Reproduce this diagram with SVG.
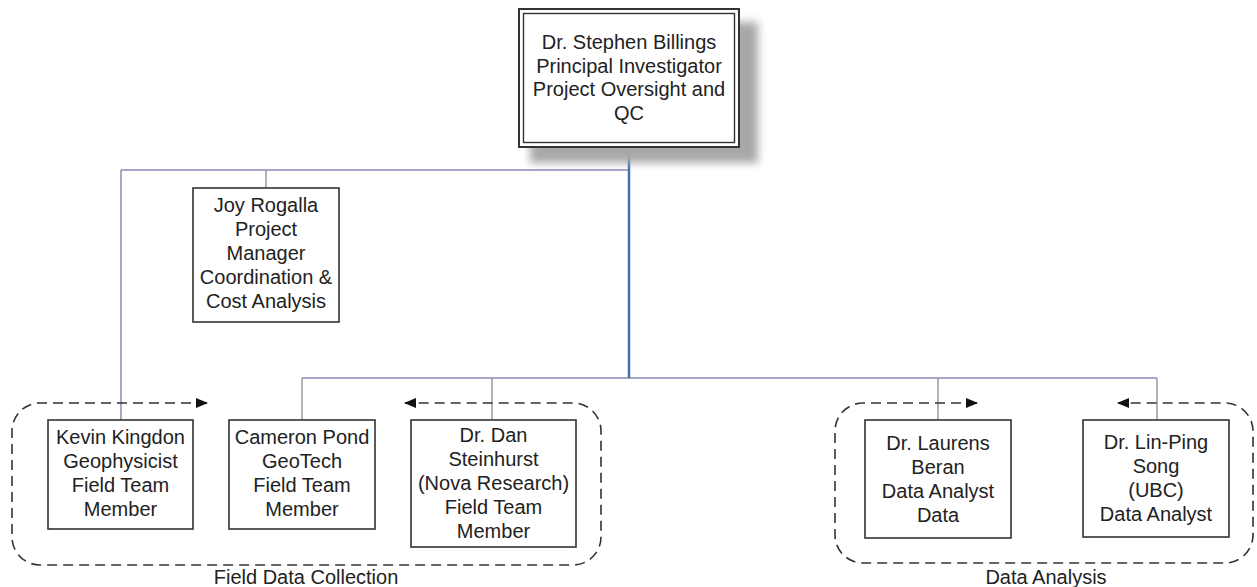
<svg xmlns="http://www.w3.org/2000/svg" width="1257" height="587" viewBox="0 0 1257 587">
<defs>
<filter id="blur" x="-20%" y="-20%" width="140%" height="140%"><feGaussianBlur stdDeviation="4"/></filter>
<marker id="ah" viewBox="0 0 12 10" refX="11" refY="5" markerWidth="12" markerHeight="10" orient="auto-start-reverse" markerUnits="userSpaceOnUse"><path d="M0,0 L12,5 L0,10 z" fill="#111"/></marker>
</defs>
<style>
text{font-family:"Liberation Sans",Arial,sans-serif;font-size:20px;fill:#222;text-anchor:middle}
.box{fill:#fff;stroke:#333;stroke-width:1.6}
.hl{stroke:#8888b4;stroke-width:1.5;fill:none}
.vl{stroke:#9a9a9a;stroke-width:1.5;fill:none}
.grp{fill:none;stroke:#333;stroke-width:1.6;stroke-dasharray:10 6}
</style>
<rect width="1257" height="587" fill="#fff"/>
<g id="connectors">
<path class="hl" d="M121,170 H629"/>
<path class="hl" d="M121,170 V420" stroke="#9090c0"/>
<path class="vl" d="M266,170 V188"/>
<path class="hl" d="M302,378 H1157"/>
<path class="vl" d="M302,378 V420 M492,378 V420 M938,378 V420 M1157,378 V420"/>
<path d="M629,147 V378" stroke="#3f70b8" stroke-width="2.5" fill="none"/>
</g>
<g id="group-field">
<path class="grp" d="M207,403 H40 A28,28 0 0 0 12,431 V537 A28,28 0 0 0 40,565 H573 A28,28 0 0 0 601,537 V431 A28,28 0 0 0 573,403 H405" marker-start="url(#ah)" marker-end="url(#ah)"/>
<text x="306" y="584">Field Data Collection</text>
</g>
<g id="group-data">
<path class="grp" d="M977,403 H863 A28,28 0 0 0 835,431 V535 A28,28 0 0 0 863,563 H1225 A28,28 0 0 0 1253,535 V431 A28,28 0 0 0 1225,403 H1118" marker-start="url(#ah)" marker-end="url(#ah)"/>
<text x="1046" y="584">Data Analysis</text>
</g>
<g id="billings">
<rect x="530" y="22" width="228" height="141" fill="#a8a8a8" filter="url(#blur)"/>
<rect x="519" y="9" width="220" height="138" fill="#fff" stroke="#333" stroke-width="2"/>
<rect x="523.5" y="13.5" width="211" height="129" fill="none" stroke="#333" stroke-width="1.4"/>
<text x="629" y="49">Dr. Stephen Billings</text>
<text x="629" y="72.5">Principal Investigator</text>
<text x="629" y="96">Project Oversight and</text>
<text x="629" y="119.5">QC</text>
</g>
<g id="rogalla">
<rect class="box" x="193" y="188" width="146" height="134"/>
<text x="266" y="212">Joy Rogalla</text>
<text x="266" y="236">Project</text>
<text x="266" y="260">Manager</text>
<text x="266" y="284">Coordination &amp;</text>
<text x="266" y="308">Cost Analysis</text>
</g>
<g id="kingdon">
<rect class="box" x="48" y="420" width="145" height="109"/>
<text x="120.5" y="444">Kevin Kingdon</text>
<text x="120.5" y="468">Geophysicist</text>
<text x="120.5" y="492">Field Team</text>
<text x="120.5" y="516">Member</text>
</g>
<g id="pond">
<rect class="box" x="229" y="420" width="146" height="109"/>
<text x="302" y="444">Cameron Pond</text>
<text x="302" y="468">GeoTech</text>
<text x="302" y="492">Field Team</text>
<text x="302" y="516">Member</text>
</g>
<g id="steinhurst">
<rect class="box" x="411" y="420" width="165" height="127"/>
<text x="493.5" y="442">Dr. Dan</text>
<text x="493.5" y="466">Steinhurst</text>
<text x="493.5" y="490">(Nova Research)</text>
<text x="493.5" y="514">Field Team</text>
<text x="493.5" y="538">Member</text>
</g>
<g id="beran">
<rect class="box" x="865" y="420" width="146" height="118"/>
<text x="938" y="450">Dr. Laurens</text>
<text x="938" y="474">Beran</text>
<text x="938" y="498">Data Analyst</text>
<text x="938" y="522">Data</text>
</g>
<g id="song">
<rect class="box" x="1083" y="420" width="146" height="117"/>
<text x="1156" y="449">Dr. Lin-Ping</text>
<text x="1156" y="473">Song</text>
<text x="1156" y="497">(UBC)</text>
<text x="1156" y="521">Data Analyst</text>
</g>
</svg>
